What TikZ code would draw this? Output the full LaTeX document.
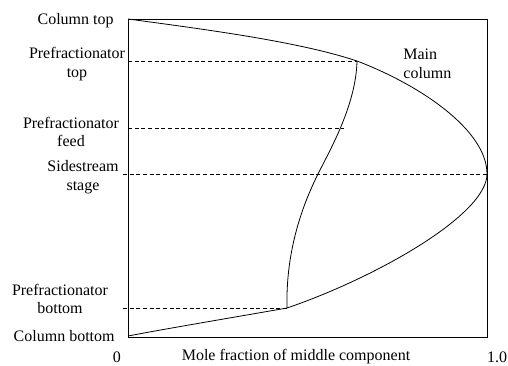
\documentclass[tikz,border=0pt]{standalone}
\usepackage{fontspec}
\setmainfont{Liberation Serif}
\usepackage{tikz}
\usetikzlibrary{calc}

\begin{document}
\begin{tikzpicture}[x=0.75pt, y=-0.75pt, line width=0.6pt,
    lbl/.style={font=\fontsize{12}{14}\selectfont, align=center, inner sep=0pt},
    level/.style={dashed, dash pattern=on 3pt off 2pt, line width=0.5pt}]
  \useasboundingbox (0,0) rectangle (508,365);

  % frame and the points the profiles pass through
  \draw (128,19) rectangle (487,337);
  \coordinate (ctop) at (128,19);
  \coordinate (cbot) at (128,336);
  \coordinate (ptop) at (357,61);
  \coordinate (pfeed) at (344,128);
  \coordinate (side) at (487,174);
  \coordinate (pside) at (318,174);
  \coordinate (pbot) at (287,308);

  % main column profile
  \draw (ctop) .. controls (210,30) and (300,42) .. (ptop)
        .. controls (420,85) and (487,130) .. (side)
        .. controls (487,215) and (375,278) .. (pbot)
        .. controls (230,318) and (170,328) .. (cbot);
  % prefractionator profile
  \draw (ptop) .. controls (356,105) and (330,150) .. (pside)
        .. controls (295,220) and (286,265) .. (pbot);

  \coordinate (ltop) at (128,61);
  \coordinate (lfeed) at (128,128);
  \coordinate (lside) at (123,174);
  \coordinate (lbot) at (123,308);
  \draw[level] (ltop) -- (ptop);
  \draw[level] (lfeed) -- (pfeed);
  \draw[level] (lside) -- (side);
  \draw[level] (lbot) -- (pbot);

  \node[lbl, anchor=east] (coltop) at (114,21) {Column top};
  \node[lbl] (preftop) at (77,64) {Prefractionator\\top};
  \node[lbl] (preffeed) at (71,132) {Prefractionator\\feed};
  \node[lbl] (sidestage) at (83,177) {Sidestream\\stage};
  \node[lbl] (prefbot) at (60,299) {Prefractionator\\bottom};
  \node[lbl, anchor=east] (colbot) at (115,336) {Column bottom};
  \node[lbl, align=left, anchor=west] (maincol) at (403,64) {Main\\column};
  \node[lbl] (xzero) at (117,357) {0};
  \node[lbl] (xlabel) at (296,357) {Mole fraction of middle component};
  \node[lbl] (xone) at (497,357) {1.0};
\end{tikzpicture}
\end{document}
